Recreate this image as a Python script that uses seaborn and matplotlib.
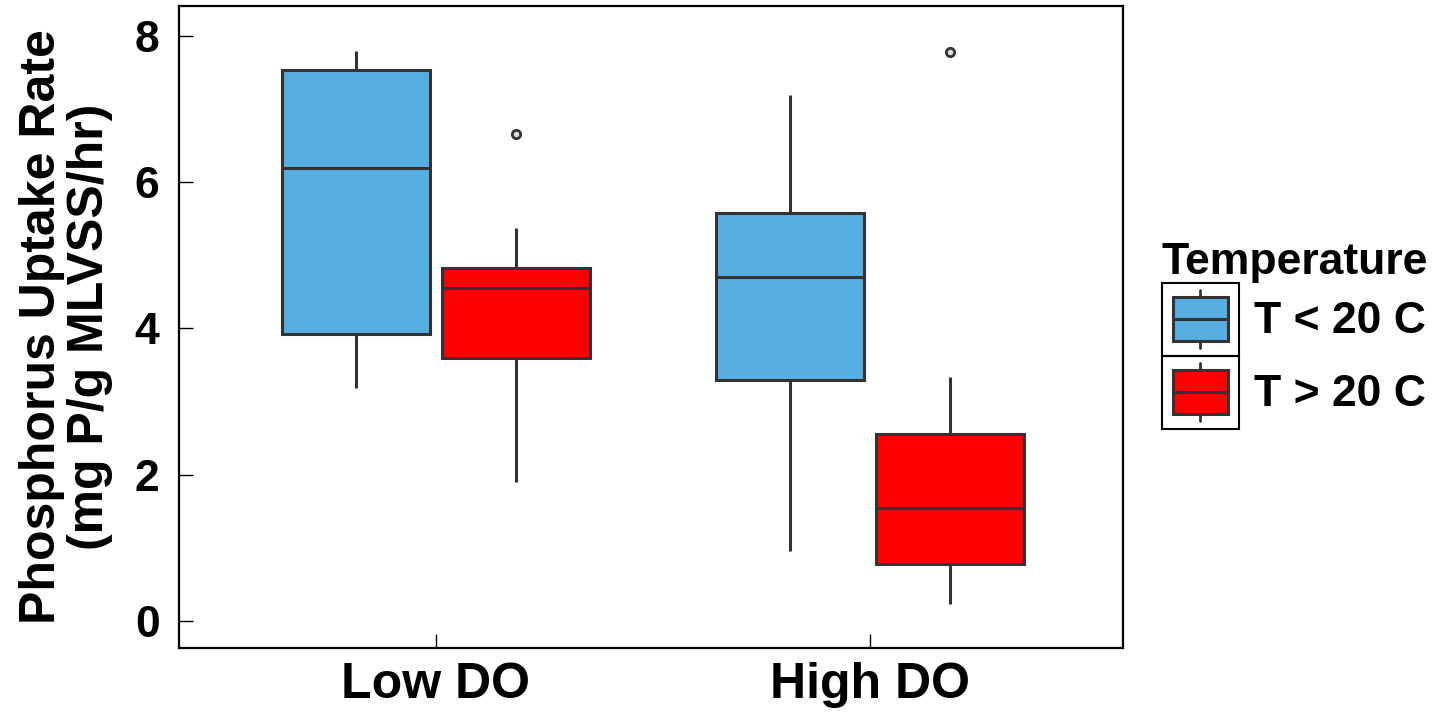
import pandas as pd
import matplotlib
matplotlib.use("Agg")
import matplotlib.pyplot as plt
import matplotlib.patches as mpatches
from matplotlib.lines import Line2D
from matplotlib.legend_handler import HandlerBase
import seaborn as sns

# Values (9 points each so quartiles land on the drawn box edges)
DO_LEVELS = ["Low DO", "High DO"]
TEMPS = ["T < 20 C", "T > 20 C"]

low_do_cold = [3.18, 3.55, 3.93, 5.00, 6.19, 7.10, 7.53, 7.66, 7.79]
low_do_warm = [1.90, 3.20, 3.60, 4.10, 4.55, 4.70, 4.82, 5.37, 6.66]
high_do_cold = [0.96, 2.40, 3.29, 4.10, 4.70, 5.20, 5.58, 6.40, 7.19]
high_do_warm = [0.23, 0.50, 0.78, 1.20, 1.55, 2.00, 2.56, 3.33, 7.78]

COLORS = {"T < 20 C": "#56AEE2", "T > 20 C": "#FF0000"}
LINE = "#333333"


class BoxKeyHandler(HandlerBase):
    # draws a tiny boxplot inside a framed cell, like ggplot keys
    def create_artists(self, legend, orig_handle, xdescent, ydescent,
                       width, height, fontsize, trans):
        x0, y0 = -xdescent, -ydescent
        cx = x0 + width / 2
        cy = y0 + height / 2
        cell = mpatches.Rectangle((x0, y0), width, height, facecolor='none',
                                  edgecolor='black', lw=1.5, transform=trans)
        whisk = Line2D([cx, cx], [y0 + 0.1 * height, y0 + 0.9 * height],
                       color=LINE, lw=2, transform=trans)
        box = mpatches.Rectangle((x0 + 0.14 * width, y0 + 0.2 * height),
                                 0.72 * width, 0.6 * height,
                                 facecolor=orig_handle.get_facecolor(),
                                 edgecolor=LINE, lw=2.2, transform=trans)
        med = Line2D([x0 + 0.14 * width, x0 + 0.86 * width], [cy, cy],
                     color=LINE, lw=2.2, transform=trans)
        return [cell, whisk, box, med]


def build_frame():
    groups = [
        ("Low DO", "T < 20 C", low_do_cold),
        ("Low DO", "T > 20 C", low_do_warm),
        ("High DO", "T < 20 C", high_do_cold),
        ("High DO", "T > 20 C", high_do_warm),
    ]
    rows = []
    for do, temp, vals in groups:
        for v in vals:
            rows.append({"DO": do, "Temperature": temp, "Rate": v})
    return pd.DataFrame(rows)


def main():
    df = build_frame()

    sns.set_style("white")
    plt.rcParams['font.family'] = ['Liberation Sans', 'DejaVu Sans']
    plt.rcParams['font.weight'] = 'bold'
    for key in ['text.color', 'axes.labelcolor', 'xtick.color', 'ytick.color']:
        plt.rcParams[key] = 'black'

    fig = plt.figure(figsize=(14.47, 7.19), dpi=100)
    ax = fig.add_axes([0.1237, 0.0987, 0.6524, 0.893])

    sns.boxplot(
        data=df, x="DO", y="Rate", hue="Temperature",
        order=DO_LEVELS, hue_order=TEMPS, palette=COLORS,
        width=0.74, gap=0.08, showcaps=False,
        linecolor=LINE, linewidth=2.2, saturation=1,
        flierprops=dict(marker='o', markersize=6, markerfacecolor='#dddddd',
                        markeredgecolor=LINE, markeredgewidth=2),
        ax=ax,
    )

    ax.set_xlim(-0.592, 1.583)
    ax.set_ylim(-0.37, 8.41)
    ax.set_yticks([0, 2, 4, 6, 8])
    ax.set_xlabel("")
    ax.set_ylabel("Phosphorus Uptake Rate\n(mg P/g MLVSS/hr)", fontsize=36,
                  fontweight='bold', linespacing=1.05, labelpad=16)

    ax.tick_params(axis='y', left=True, direction='in', length=10, width=1,
                   labelsize=32, pad=14)
    ax.tick_params(axis='x', bottom=True, direction='in', length=10, width=1,
                   labelsize=36, pad=10)
    for lab in ax.get_xticklabels() + ax.get_yticklabels():
        lab.set_fontweight('bold')
    for sp in ax.spines.values():
        sp.set_visible(True)
        sp.set_color('black')
        sp.set_linewidth(1.6)

    # rebuild the seaborn legend with boxplot-style keys
    old = ax.get_legend()
    handles = old.legend_handles
    labels = [t.get_text() for t in old.get_texts()]
    old.remove()
    leg = ax.legend(
        handles, labels, loc="upper left",
        bbox_to_anchor=(0.803, 0.664), bbox_transform=fig.transFigure,
        title="Temperature", frameon=False, fontsize=32,
        title_fontproperties={'weight': 'bold', 'size': 32},
        handler_map={mpatches.Patch: BoxKeyHandler()},
        handlelength=1.73, handleheight=2.15, handletextpad=0.35,
        labelspacing=0, borderpad=0, borderaxespad=0,
    )
    leg._legend_box.align = "left"
    for t in leg.get_texts():
        t.set_fontweight('bold')

    fig.savefig("out.png", dpi=100)
    plt.close(fig)


if __name__ == "__main__":
    main()
